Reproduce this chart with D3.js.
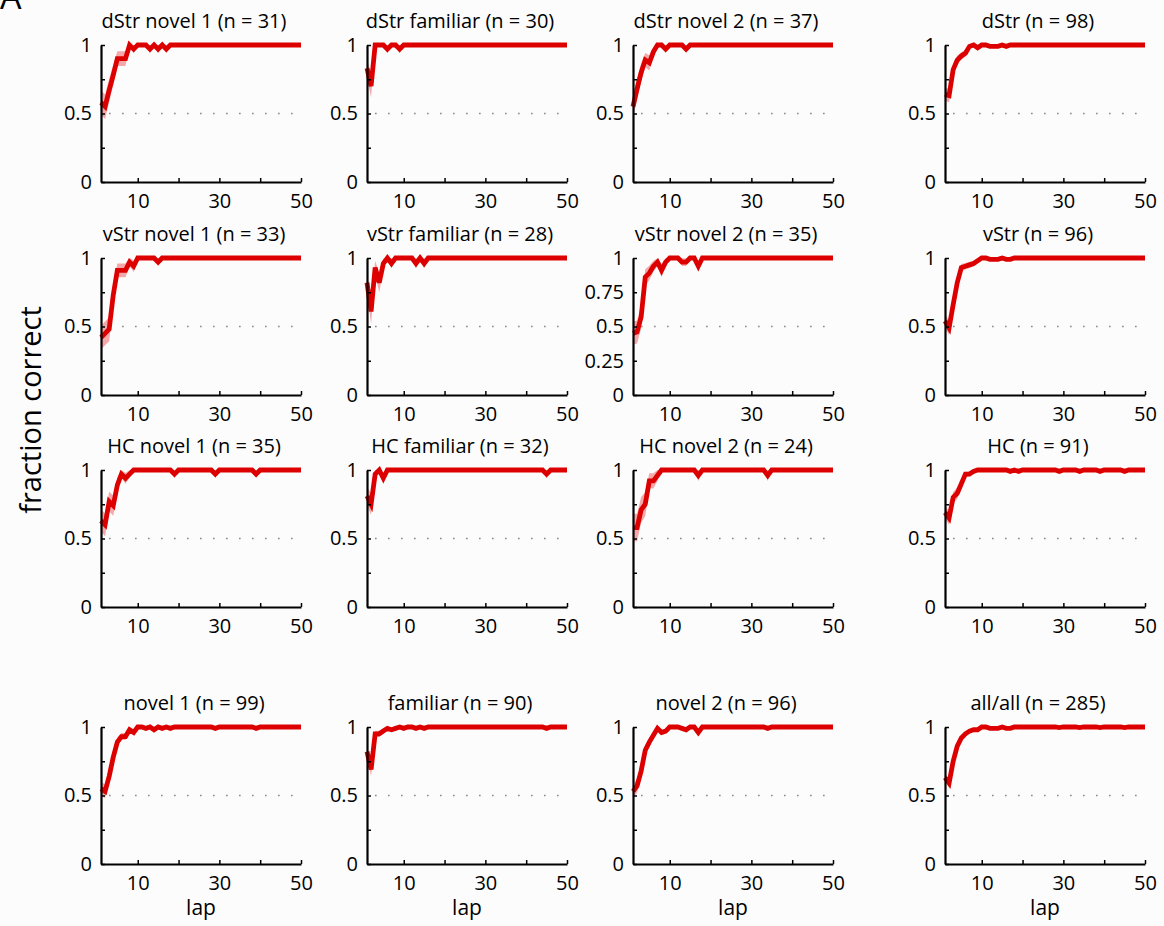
<!DOCTYPE html>
<html>
<head>
<meta charset="utf-8">
<script src="https://cdn.jsdelivr.net/npm/d3@7"></script>
<style>
  body { margin: 0; background: #fcfcfc; }
  svg { display: block; font-family: "Open Sans", sans-serif; }
</style>
</head>
<body>
<div id="chart"></div>
<script>
// lap-by-lap fraction correct (laps 1..50)
const laps = d3.range(1, 51);

const dStrNovel1   = [0.58,0.55,0.67,0.78,0.9,0.9,0.9,1,0.97,1, 1,1,0.97,1,0.97,1,0.97,1,1,1, 1,1,1,1,1,1,1,1,1,1, 1,1,1,1,1,1,1,1,1,1, 1,1,1,1,1,1,1,1,1,1];
const dStrFamiliar = [0.83,0.7,1,1,1,0.97,1,1,0.97,1, 1,1,1,1,1,1,1,1,1,1, 1,1,1,1,1,1,1,1,1,1, 1,1,1,1,1,1,1,1,1,1, 1,1,1,1,1,1,1,1,1,1];
const dStrNovel2   = [0.55,0.68,0.8,0.89,0.87,0.95,1,1,0.97,1, 1,1,1,0.97,1,1,1,1,1,1, 1,1,1,1,1,1,1,1,1,1, 1,1,1,1,1,1,1,1,1,1, 1,1,1,1,1,1,1,1,1,1];
const dStrAll      = [0.64,0.63,0.82,0.89,0.92,0.94,0.99,1,0.98,1, 1,0.99,0.99,0.99,1,0.99,1,1,1,1, 1,1,1,1,1,1,1,1,1,1, 1,1,1,1,1,1,1,1,1,1, 1,1,1,1,1,1,1,1,1,1];

const vStrNovel1   = [0.42,0.45,0.48,0.73,0.91,0.91,0.91,0.97,0.94,1, 1,1,1,1,0.97,1,1,1,1,1, 1,1,1,1,1,1,1,1,1,1, 1,1,1,1,1,1,1,1,1,1, 1,1,1,1,1,1,1,1,1,1];
const vStrFamiliar = [0.82,0.61,0.93,0.82,0.96,1,0.96,1,1,1, 1,1,0.96,1,0.96,1,1,1,1,1, 1,1,1,1,1,1,1,1,1,1, 1,1,1,1,1,1,1,1,1,1, 1,1,1,1,1,1,1,1,1,1];
const vStrNovel2   = [0.45,0.46,0.57,0.86,0.89,0.94,0.97,0.91,0.97,1, 1,1,0.97,0.97,1,1,0.94,1,1,1, 1,1,1,1,1,1,1,1,1,1, 1,1,1,1,1,1,1,1,1,1, 1,1,1,1,1,1,1,1,1,1];
const vStrAll      = [0.54,0.49,0.66,0.82,0.93,0.94,0.95,0.96,0.98,1, 1,0.99,0.99,0.99,1,0.99,0.99,1,1,1, 1,1,1,1,1,1,1,1,1,1, 1,1,1,1,1,1,1,1,1,1, 1,1,1,1,1,1,1,1,1,1];

const hcNovel1     = [0.63,0.6,0.77,0.74,0.89,0.97,0.94,0.97,1,1, 1,1,1,1,1,1,1,1,0.97,1, 1,1,1,1,1,1,1,1,0.97,1, 1,1,1,1,1,1,1,1,0.97,1, 1,1,1,1,1,1,1,1,1,1];
const hcFamiliar   = [0.81,0.75,0.97,1,0.94,1,1,1,1,1, 1,1,1,1,1,1,1,1,1,1, 1,1,1,1,1,1,1,1,1,1, 1,1,1,1,1,1,1,1,1,1, 1,1,1,1,0.97,1,1,1,1,1];
const hcNovel2     = [0.58,0.58,0.71,0.75,0.92,0.92,0.96,1,1,1, 1,1,1,1,1,1,0.96,1,1,1, 1,1,1,1,1,1,1,1,1,1, 1,1,1,0.96,1,1,1,1,1,1, 1,1,1,1,1,1,1,1,1,1];
const hcAll        = [0.69,0.65,0.8,0.83,0.9,0.97,0.97,0.99,1,1, 1,1,1,1,1,1,0.99,1,0.99,1, 1,1,1,1,1,1,1,1,0.99,1, 1,1,1,0.99,1,1,1,1,0.99,1, 1,1,1,1,0.99,1,1,1,1,1];

const allNovel1    = [0.55,0.53,0.64,0.78,0.89,0.93,0.93,0.98,0.96,1, 1,0.99,1,0.98,1,0.99,1,0.99,1,1, 1,1,1,1,1,1,1,1,0.99,1, 1,1,1,1,1,1,1,1,0.99,1, 1,1,1,1,1,1,1,1,1,1];
const allFamiliar  = [0.82,0.69,0.95,0.95,0.97,0.99,0.98,0.99,1,0.99, 1,1,0.99,1,0.99,1,1,1,1,1, 1,1,1,1,1,1,1,1,1,1, 1,1,1,1,1,1,1,1,1,1, 1,1,1,1,0.99,1,1,1,1,1];
const allNovel2    = [0.53,0.57,0.68,0.83,0.89,0.94,0.99,0.96,0.97,1, 1,1,0.99,0.98,1,1,0.96,1,1,1, 1,1,1,1,1,1,1,1,1,1, 1,1,1,0.99,1,1,1,1,1,1, 1,1,1,1,1,1,1,1,1,1];
const allAll       = [0.63,0.59,0.75,0.86,0.92,0.95,0.97,0.98,0.98,1, 1,0.99,0.99,0.99,1,0.99,0.99,1,1,1, 1,1,1,1,1,1,1,1,0.995,1, 1,1,1,0.995,1,1,1,1,0.995,1, 1,1,1,1,0.995,1,1,1,1,1];

const panelNames = ["dStr novel 1", "dStr familiar", "dStr novel 2", "dStr",
                    "vStr novel 1", "vStr familiar", "vStr novel 2", "vStr",
                    "HC novel 1", "HC familiar", "HC novel 2", "HC",
                    "novel 1", "familiar", "novel 2", "all/all"];
const panelN = [31, 30, 37, 98, 33, 28, 35, 96, 35, 32, 24, 91, 99, 90, 96, 285];
const panelSeries = [dStrNovel1, dStrFamiliar, dStrNovel2, dStrAll,
                     vStrNovel1, vStrFamiliar, vStrNovel2, vStrAll,
                     hcNovel1, hcFamiliar, hcNovel2, hcAll,
                     allNovel1, allFamiliar, allNovel2, allAll];

const xTicks = [10, 20, 30, 40, 50];
const xTickLabels = [10, 30, 50];
const yTicks = [0, 0.25, 0.5, 0.75, 1];
const yTickLabels = [0, 0.5, 1];
const chance = 0.5;

// layout
const width = 1164, height = 926;
const colX = [101, 367, 633, 945];
const rowY = [45, 258, 470, 727];
const plotW = 200, plotH = 137;
const red = "#dc0000", band = "#f3a9a9";

const svg = d3.select("#chart").append("svg")
    .attr("width", width)
    .attr("height", height);

svg.append("rect").attr("width", width).attr("height", height).attr("fill", "#fcfcfc");

// panel letter, cut off by the top edge as in the source figure
svg.append("text")
    .attr("x", 0).attr("y", 9)
    .attr("font-size", 34)
    .text("A");

svg.append("text")
    .attr("transform", "translate(41,410) rotate(-90)")
    .attr("text-anchor", "middle")
    .attr("font-size", 29)
    .text("fraction correct");

panelSeries.forEach((vals, i) => {
    const row = Math.floor(i / 4), col = i % 4;
    const n = panelN[i];
    const g = svg.append("g").attr("transform", `translate(${colX[col]},${rowY[row]})`);

    const x = d3.scaleLinear().domain([1, 50]).range([0, plotW]);
    const y = d3.scaleLinear().domain([0, 1]).range([plotH, 0]);

    const data = laps.map((lap, k) => {
        const p = vals[k];
        const se = Math.sqrt(p * (1 - p) / n); // binomial standard error
        return { lap, p, lo: p - se, hi: Math.min(1, p + se) };
    });

    // chance line
    g.append("line")
        .attr("x1", x(3)).attr("x2", x(48))
        .attr("y1", y(chance)).attr("y2", y(chance))
        .attr("stroke", "#777")
        .attr("stroke-width", 1.4)
        .attr("stroke-dasharray", "1.4,11.6");

    g.append("path")
        .datum(data)
        .attr("fill", band)
        .attr("d", d3.area().x(d => x(d.lap)).y0(d => y(d.lo)).y1(d => y(d.hi)));

    g.append("path")
        .datum(data)
        .attr("fill", "none")
        .attr("stroke", red)
        .attr("stroke-width", 4.8)
        .attr("d", d3.line().x(d => x(d.lap)).y(d => y(d.p)));

    const showAllY = panelNames[i] === "vStr novel 2";
    const yAxis = g.append("g")
        .call(d3.axisLeft(y).tickValues(yTicks).tickSize(-4).tickSizeOuter(0).tickPadding(9)
            .tickFormat(d => (showAllY || yTickLabels.includes(d)) ? String(d) : ""));

    const xAxis = g.append("g")
        .attr("transform", `translate(0,${plotH})`)
        .call(d3.axisBottom(x).tickValues(xTicks).tickSize(-4).tickSizeOuter(0).tickPadding(12)
            .tickFormat(d => xTickLabels.includes(d) ? String(d) : ""));

    [yAxis, xAxis].forEach(a => {
        a.select(".domain").attr("stroke", "#000").attr("stroke-width", 2.2);
        a.selectAll(".tick line").attr("stroke", "#000").attr("stroke-width", 1.5);
        a.selectAll(".tick text").attr("fill", "#000").attr("font-size", 20)
            .attr("font-family", "Open Sans, sans-serif");
    });

    g.append("text")
        .attr("x", plotW / 2 - 7).attr("y", -17)
        .attr("text-anchor", "middle")
        .attr("font-size", 20)
        .text(`${panelNames[i]} (n = ${n})`);

    if (row === 3) {
        g.append("text")
            .attr("x", plotW / 2).attr("y", plotH + 51)
            .attr("text-anchor", "middle")
            .attr("font-size", 21)
            .text("lap");
    }
});
</script>
</body>
</html>
